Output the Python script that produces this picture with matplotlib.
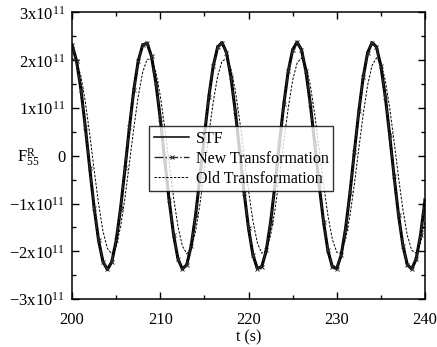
import matplotlib
matplotlib.use('Agg')
import matplotlib.pyplot as plt
import numpy as np
from matplotlib.ticker import MultipleLocator, FuncFormatter

plt.rcParams['font.family'] = ['Liberation Serif', 'DejaVu Serif']
plt.rcParams['mathtext.fontset'] = 'custom'
plt.rcParams['mathtext.rm'] = 'Liberation Serif'

# time grid (s), one sample every 0.5 s
t = np.linspace(200, 240, 81)

# F55 in units of 1e11
stf = [2.32, 1.99, 1.39, 0.60, -0.26, -1.09, -1.77, -2.22, -2.38, -2.22,
       -1.77, -1.09, -0.26, 0.60, 1.39, 1.99, 2.32, 2.36, 2.08, 1.52,
       0.77, -0.09, -0.93, -1.65, -2.16, -2.37, -2.28, -1.88, -1.24, -0.43,
       0.43, 1.24, 1.88, 2.28, 2.37, 2.16, 1.65, 0.93, 0.09, -0.77,
       -1.52, -2.08, -2.36, -2.32, -1.99, -1.39, -0.60, 0.26, 1.09, 1.77,
       2.22, 2.38, 2.22, 1.77, 1.09, 0.26, -0.60, -1.38, -1.99, -2.32,
       -2.36, -2.08, -1.52, -0.77, 0.09, 0.93, 1.65, 2.16, 2.37, 2.28,
       1.88, 1.24, 0.43, -0.43, -1.24, -1.88, -2.28, -2.37, -2.16, -1.65,
       -0.93]
new_tr = [2.32, 1.98, 1.38, 0.60, -0.26, -1.09, -1.77, -2.22, -2.38, -2.22,
          -1.77, -1.09, -0.26, 0.60, 1.38, 1.98, 2.32, 2.36, 2.08, 1.52,
          0.77, -0.09, -0.93, -1.65, -2.15, -2.37, -2.28, -1.88, -1.24, -0.43,
          0.43, 1.24, 1.88, 2.28, 2.37, 2.15, 1.65, 0.93, 0.09, -0.77,
          -1.52, -2.08, -2.36, -2.32, -1.98, -1.38, -0.60, 0.26, 1.09, 1.77,
          2.22, 2.38, 2.22, 1.77, 1.09, 0.26, -0.60, -1.38, -1.98, -2.32,
          -2.36, -2.08, -1.52, -0.77, 0.09, 0.93, 1.65, 2.15, 2.37, 2.28,
          1.88, 1.24, 0.43, -0.43, -1.24, -1.88, -2.28, -2.37, -2.15, -1.65,
          -0.93]
old_tr = [2.04, 1.98, 1.67, 1.13, 0.45, -0.30, -1.00, -1.58, -1.94, -2.05,
          -1.89, -1.48, -0.87, -0.15, 0.59, 1.25, 1.75, 2.02, 2.02, 1.75,
          1.25, 0.59, -0.15, -0.87, -1.48, -1.89, -2.05, -1.94, -1.58, -1.00,
          -0.30, 0.45, 1.13, 1.67, 1.98, 2.04, 1.82, 1.37, 0.73, 0.00,
          -0.73, -1.37, -1.82, -2.04, -1.98, -1.67, -1.13, -0.45, 0.30, 1.00,
          1.58, 1.94, 2.05, 1.89, 1.48, 0.87, 0.15, -0.59, -1.25, -1.75,
          -2.02, -2.02, -1.75, -1.25, -0.59, 0.15, 0.87, 1.48, 1.89, 2.05,
          1.94, 1.58, 1.00, 0.30, -0.45, -1.13, -1.67, -1.98, -2.04, -1.82,
          -1.37]

fig = plt.figure(figsize=(4.37, 3.47), dpi=100)
ax = fig.add_axes([0.165, 0.138, 0.8075, 0.826])

ax.plot(t, stf, color='black', lw=2.2, label='STF')
ax.plot(t, new_tr, color='#2a2a2a', lw=1.0, ls='-.', marker='x', ms=3,
        mew=0.7, label='New Transformation')
ax.plot(t, old_tr, color='black', lw=0.7, ls=(0, (2.5, 1.5)),
        label='Old Transformation')

ax.set_xlim(200, 240)
ax.set_ylim(-3, 3)
ax.xaxis.set_major_locator(MultipleLocator(10))
ax.xaxis.set_minor_locator(MultipleLocator(5))
ax.yaxis.set_major_locator(MultipleLocator(1))
ax.yaxis.set_minor_locator(MultipleLocator(0.5))


def sci_fmt(v, pos):
    n = int(round(v))
    if n == 0:
        return '0'
    return r'$\mathregular{%dx10^{11}}$' % n


ax.yaxis.set_major_formatter(FuncFormatter(sci_fmt))
ax.tick_params(which='both', direction='in', top=True, right=True,
               labelsize=12, width=1.0)
ax.tick_params(which='major', length=5)
ax.tick_params(which='minor', length=3)
ax.tick_params(axis='x', pad=9)
ax.tick_params(axis='y', pad=5)
for s in ax.spines.values():
    s.set_linewidth(1.1)

ax.set_xlabel('t (s)', fontsize=11.5, labelpad=1)
ax.set_ylabel(r'$\mathregular{F^R_{55}}$', fontsize=12, rotation=0)
ax.yaxis.set_label_coords(-0.125, 0.455)

leg = ax.legend(loc='center', bbox_to_anchor=(0.48, 0.49), fontsize=11.5,
                frameon=True, fancybox=False, edgecolor='black',
                handlelength=2.2, handletextpad=0.4, borderpad=0.3,
                labelspacing=0.25, borderaxespad=0)
leg.get_frame().set_linewidth(1.0)
# thinner sample line for the STF entry
leg.get_lines()[0].set_linewidth(1.1)

fig.savefig('out.png', dpi=100)
